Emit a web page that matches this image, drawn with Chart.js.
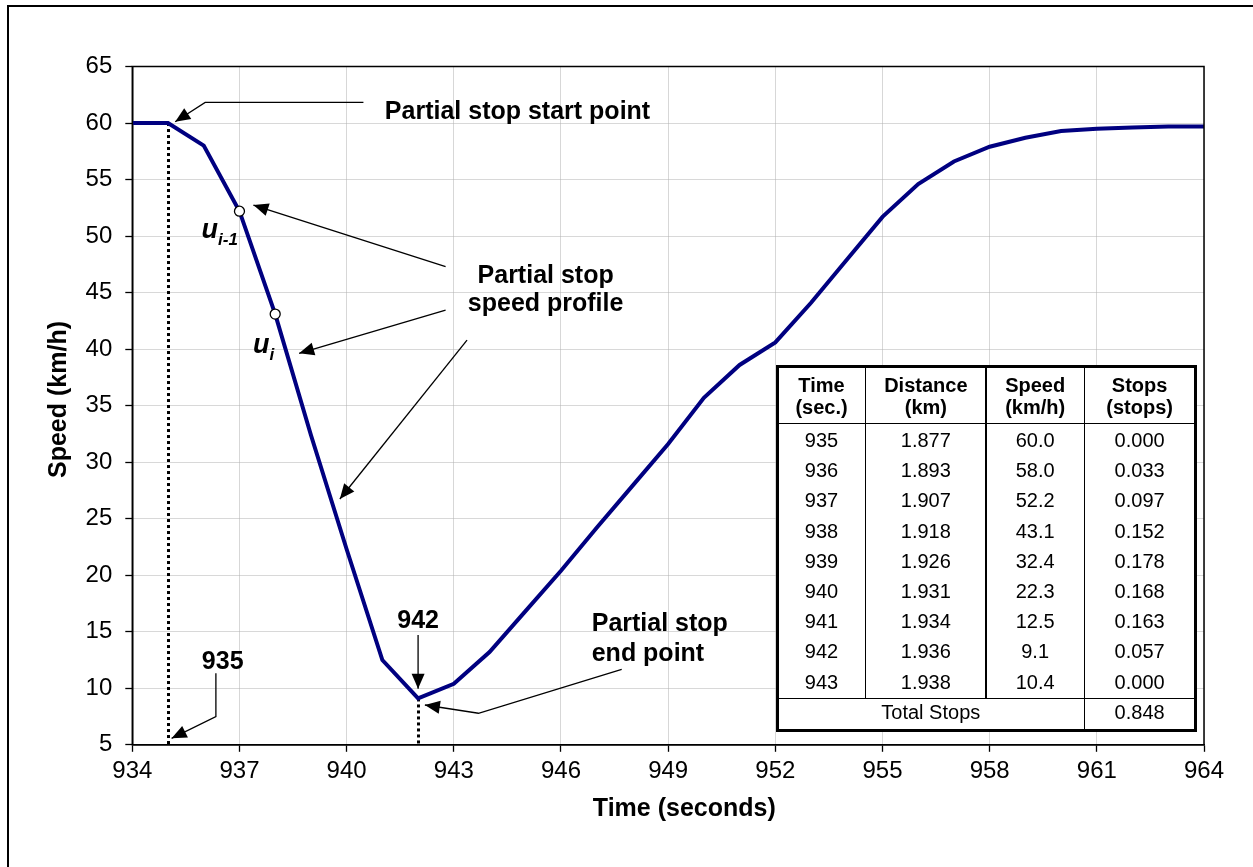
<!DOCTYPE html>
<html>
<head>
<meta charset="utf-8">
<title>Partial stop speed profile</title>
<script src="https://cdn.jsdelivr.net/npm/chart.js@4.4.1/dist/chart.umd.min.js"></script>
<style>
  html, body { margin: 0; padding: 0; background: #fff; }
  #wrap { position: relative; width: 1253px; height: 867px; overflow: hidden; background: #fff;
          font-family: "Liberation Sans", Arial, Helvetica, sans-serif; color: #000; }
  #c { position: absolute; left: 0; top: 0; }
  #frame { position: absolute; left: 7px; top: 5px; width: 1300px; height: 900px;
           border: 2px solid #000; box-sizing: border-box; pointer-events: none; }
  #tbl { position: absolute; left: 776px; top: 365px; width: 421px; height: 367px;
         border: 3px solid #000; box-sizing: border-box; background: #fff; }
  .tl { position: absolute; background: #000; }
  .tc { position: absolute; text-align: center; font-size: 20px; white-space: nowrap; }
  .tc.b { font-weight: bold; }
</style>
</head>
<body>
<div id="wrap">
  <canvas id="c" width="1253" height="867"></canvas>
  <div id="tbl"></div>
  <div id="frame"></div>
</div>
<script>
// ---- data -------------------------------------------------------------
const times  = [934, 935, 936, 937, 938, 939, 940, 941, 942, 943, 944, 945, 946, 947, 948, 949,
                950, 951, 952, 953, 954, 955, 956, 957, 958, 959, 960, 961, 962, 963, 964];
const speeds = [60.0, 60.0, 58.0, 52.2, 43.1, 32.4, 22.3, 12.5, 9.1, 10.4, 13.2, 16.8, 20.4, 24.2, 27.9, 31.6,
                35.7, 38.6, 40.6, 44.1, 47.9, 51.7, 54.6, 56.6, 57.9, 58.7, 59.3, 59.5, 59.6, 59.7, 59.7];

const xMin = 934, xMax = 964, xStep = 3;
const yMin = 5,   yMax = 65,  yStep = 5;

const markerTimes = [937, 938];     // u(i-1), u(i)
const dropTimes   = [935, 942];     // partial stop start / end

// table of the partial stop
const tableTimes     = [935, 936, 937, 938, 939, 940, 941, 942, 943];
const tableDistances = [1.877, 1.893, 1.907, 1.918, 1.926, 1.931, 1.934, 1.936, 1.938];
const tableStops     = [0.000, 0.033, 0.097, 0.152, 0.178, 0.168, 0.163, 0.057, 0.000];
const tableHeaders   = [['Time', '(sec.)'], ['Distance', '(km)'], ['Speed', '(km/h)'], ['Stops', '(stops)']];

// ---- styling ----------------------------------------------------------
const FAMILY = '"Liberation Sans", Arial, Helvetica, sans-serif';
const LINE_COLOR = '#000080';

function speedAt(t) { return speeds[times.indexOf(t)]; }

// ---- annotation helpers ----------------------------------------------
function arrowPath(ctx, pts, headLen, headHalf) {
  ctx.beginPath();
  ctx.moveTo(pts[0][0], pts[0][1]);
  for (let i = 1; i < pts.length; i++) ctx.lineTo(pts[i][0], pts[i][1]);
  ctx.stroke();
  const [x1, y1] = pts[pts.length - 2];
  const [x2, y2] = pts[pts.length - 1];
  const a = Math.atan2(y2 - y1, x2 - x1);
  const c = Math.cos(a), s = Math.sin(a);
  ctx.beginPath();
  ctx.moveTo(x2, y2);
  ctx.lineTo(x2 - headLen * c + headHalf * s, y2 - headLen * s - headHalf * c);
  ctx.lineTo(x2 - headLen * c - headHalf * s, y2 - headLen * s + headHalf * c);
  ctx.closePath();
  ctx.fill();
}

// callouts in (time, speed) coordinates
const callouts = [
  { lines: ['Partial stop start point'], at: [941.07, 60.93], align: 'left', gap: 0,
    leader: [[940.47, 61.83], [936.04, 61.83], [935.20, 60.11]] },
  { lines: ['Partial stop', 'speed profile'], at: [945.57, 46.43], align: 'center', gap: 2.45, leader: null },
  { lines: ['935'], at: [936.53, 12.35], align: 'center', gap: 0,
    leader: [[936.34, 11.32], [936.34, 7.49], [935.10, 5.57]] },
  { lines: ['942'], at: [942.0, 15.98], align: 'center', gap: 0,
    leader: [[942.0, 14.71], [942.0, 9.95]] },
  { lines: ['Partial stop', 'end point'], at: [946.86, 15.68], align: 'left', gap: 2.65,
    leader: [[947.70, 11.68], [943.69, 7.79], [942.19, 8.52]] }
];
const profileArrows = [
  [[942.77, 47.29], [937.39, 52.74]],
  [[942.77, 43.46], [938.67, 39.63]],
  [[943.37, 40.80], [939.81, 26.74]]
];
const speedLabels = [
  { base: 'u', sub: 'i-1', at: [935.94, 49.83] },
  { base: 'u', sub: 'i',   at: [937.38, 39.63] }
];

const overlay = {
  id: 'overlay',
  beforeDatasetsDraw(chart) {
    const { ctx, chartArea, scales: { x, y } } = chart;
    ctx.save();
    ctx.strokeStyle = '#000';
    ctx.lineWidth = 3;
    ctx.setLineDash([3, 3]);
    dropTimes.forEach(t => {
      const px = Math.round(x.getPixelForValue(t)) + 0.5;
      ctx.beginPath();
      ctx.moveTo(px, y.getPixelForValue(speedAt(t)));
      ctx.lineTo(px, chartArea.bottom);
      ctx.stroke();
    });
    ctx.restore();
  },
  afterDraw(chart) {
    const { ctx, chartArea, scales: { x, y } } = chart;
    const P = (t, v) => [x.getPixelForValue(t), y.getPixelForValue(v)];
    ctx.save();

    // plot area frame
    ctx.strokeStyle = '#000';
    ctx.lineWidth = 1.5;
    ctx.strokeRect(chartArea.left, chartArea.top, chartArea.right - chartArea.left, chartArea.bottom - chartArea.top);

    // axis titles
    ctx.fillStyle = '#000';
    ctx.font = 'bold 25px ' + FAMILY;
    ctx.textAlign = 'center';
    ctx.textBaseline = 'middle';
    ctx.fillText('Time (seconds)', chartArea.left + 552, chartArea.bottom + 64);
    ctx.save();
    ctx.translate(59, chartArea.top + 333);
    ctx.rotate(-Math.PI / 2);
    ctx.fillText('Speed (km/h)', 0, 0);
    ctx.restore();

    // callouts
    ctx.lineWidth = 1.3;
    ctx.setLineDash([]);
    callouts.forEach(c => {
      ctx.font = 'bold 25px ' + FAMILY;
      ctx.textAlign = c.align;
      ctx.textBaseline = 'middle';
      c.lines.forEach((s, i) => {
        const [px, py] = P(c.at[0], c.at[1] - i * c.gap);
        ctx.fillText(s, px, py);
      });
      if (c.leader) arrowPath(ctx, c.leader.map(p => P(p[0], p[1])), 15, 6.5);
    });
    profileArrows.forEach(a => arrowPath(ctx, a.map(p => P(p[0], p[1])), 15, 6.5));

    // u(i-1), u(i) labels
    ctx.textAlign = 'left';
    ctx.textBaseline = 'alphabetic';
    speedLabels.forEach(l => {
      const [px, py] = P(l.at[0], l.at[1]);
      ctx.font = 'italic bold 27px ' + FAMILY;
      ctx.fillText(l.base, px, py);
      const w = ctx.measureText(l.base).width;
      ctx.font = 'italic bold 17px ' + FAMILY;
      ctx.fillText(l.sub, px + w, py + 7);
    });
    ctx.restore();
  }
};

// ---- chart ------------------------------------------------------------
const chart = new Chart(document.getElementById('c'), {
  type: 'line',
  data: {
    datasets: [{
      data: times.map((t, i) => ({ x: t, y: speeds[i] })),
      borderColor: LINE_COLOR,
      borderWidth: 4,
      tension: 0,
      fill: false,
      pointRadius: times.map(t => markerTimes.includes(t) ? 5 : 0),
      pointBackgroundColor: '#fff',
      pointBorderColor: '#000',
      pointBorderWidth: 1.3,
      pointHoverRadius: 0
    }]
  },
  options: {
    responsive: false,
    animation: false,
    devicePixelRatio: 1,
    events: [],
    layout: { padding: { left: 0, top: 66.5, right: 49, bottom: 0 } },
    plugins: { legend: { display: false }, tooltip: { enabled: false }, title: { display: false } },
    scales: {
      x: {
        type: 'linear', min: xMin, max: xMax,
        afterFit(s) { s.height = 122.2; },
        ticks: { stepSize: xStep, color: '#000', padding: 5, maxRotation: 0, autoSkip: false,
                 font: { family: FAMILY, size: 24 } },
        grid: { color: '#b0b0b0', lineWidth: 1, tickColor: '#000', tickLength: 7, tickWidth: 1.3,
                tickBorderDash: [] },
        border: { display: true, color: '#000', width: 1.5, dash: [1, 1] }
      },
      y: {
        type: 'linear', min: yMin, max: yMax,
        afterFit(s) { s.width = 132.3; },
        ticks: { stepSize: yStep, color: '#000', padding: 13,
                 font: { family: FAMILY, size: 24 } },
        grid: { color: '#b0b0b0', lineWidth: 1, tickColor: '#000', tickLength: 7, tickWidth: 1.3,
                tickBorderDash: [] },
        border: { display: true, color: '#000', width: 1.5, dash: [1, 1] }
      }
    }
  },
  plugins: [overlay]
});

// ---- table ------------------------------------------------------------
(function buildTable() {
  const tbl = document.getElementById('tbl');
  const ox = 776, oy = 365;                   // table origin on the page
  const colEdges = [777.3, 865.7, 986.0, 1084.3, 1195.0];
  const headerBottom = 423.3, totalTop = 698.3;
  const rowTop = 440, rowStep = 30.2, totalMid = 711.7;

  function line(x, y, w, h) {
    const d = document.createElement('div');
    d.className = 'tl';
    d.style.left = (x - ox - 3) + 'px'; d.style.top = (y - oy - 3) + 'px';
    d.style.width = w + 'px'; d.style.height = h + 'px';
    tbl.appendChild(d);
  }
  function text(s, cx, cy, bold, width) {
    const d = document.createElement('div');
    d.className = 'tc' + (bold ? ' b' : '');
    const w = width || 110;
    d.style.left = (cx - w / 2 - ox - 3) + 'px'; d.style.width = w + 'px';
    d.style.top = (cy - 15 - oy - 3) + 'px'; d.style.height = '30px'; d.style.lineHeight = '30px';
    d.textContent = s;
    tbl.appendChild(d);
  }

  // grid lines
  line(colEdges[0], headerBottom - 0.75, colEdges[4] - colEdges[0], 1.5);
  line(colEdges[0], totalTop - 0.75, colEdges[4] - colEdges[0], 1.5);
  line(colEdges[1] - 0.75, 366, 1.5, totalTop - 366);
  line(colEdges[2] - 0.75, 366, 1.5, totalTop - 366);
  line(colEdges[3] - 0.75, 366, 1.5, 730 - 366);

  const centers = colEdges.slice(0, 4).map((e, i) => (e + colEdges[i + 1]) / 2);
  tableHeaders.forEach((h, i) => {
    text(h[0], centers[i], 384.5, true);
    text(h[1], centers[i], 406.5, true);
  });
  tableTimes.forEach((t, r) => {
    const cy = rowTop + r * rowStep;
    text(String(t), centers[0], cy);
    text(tableDistances[r].toFixed(3), centers[1], cy);
    text(speedAt(t).toFixed(1), centers[2], cy);
    text(tableStops[r].toFixed(3), centers[3], cy);
  });
  const total = tableStops.reduce((a, b) => a + b, 0);
  text('Total Stops', (colEdges[0] + colEdges[3]) / 2, totalMid, false, 250);
  text(total.toFixed(3), centers[3], totalMid);
})();
</script>
</body>
</html>
